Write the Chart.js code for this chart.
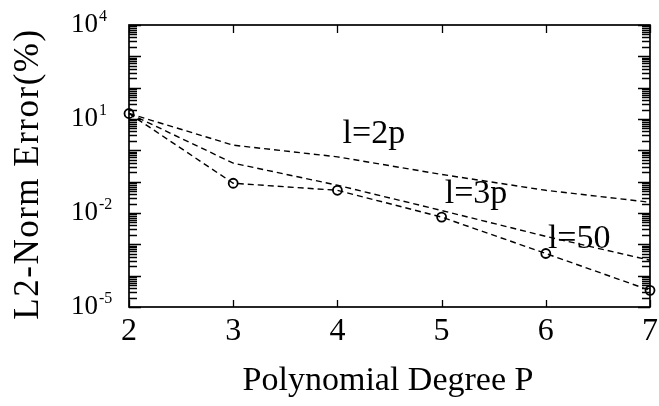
<!DOCTYPE html>
<html>
<head>
<meta charset="utf-8">
<script src="https://cdn.jsdelivr.net/npm/chart.js@4.4.1/dist/chart.umd.min.js"></script>
<style>
  html, body { margin: 0; padding: 0; background: #fff; }
  canvas { display: block; }
</style>
</head>
<body>
<canvas id="chart" width="659" height="406"></canvas>
<script>
// values (log axis, %)
const degrees = [2, 3, 4, 5, 6, 7];
const err2p = [15, 1.46, 0.62, 0.17, 0.053, 0.022];
const err3p = [15, 0.39, 0.077, 0.012, 0.0018, 0.00031];
const err50 = [15, 0.089, 0.053, 0.0074, 0.00051, 0.000034];

const xTicks = [2, 3, 4, 5, 6, 7];
const yLabelExps = [-5, -2, 1, 4];
const seriesNames = ["l=2p", "l=3p", "l=50"];

const SERIF = "'Liberation Serif', 'DejaVu Serif', serif";

function pts(vals) {
    return degrees.map((d, i) => ({ x: d, y: vals[i] }));
}

// frame, inward ticks, labels and titles
const framePlugin = {
    id: "frame",
    afterDraw(chart) {
        const ctx = chart.ctx;
        const { left, right, top, bottom } = chart.chartArea;
        const xs = chart.scales.x;
        const ys = chart.scales.y;
        ctx.save();
        ctx.strokeStyle = "#000";
        ctx.fillStyle = "#000";

        ctx.lineWidth = 1.7;
        ctx.strokeRect(left, top, right - left, bottom - top);

        // y ticks: decades long, minor short, both sides
        ctx.lineWidth = 1.3;
        for (let e = -5; e <= 4; e++) {
            for (let k = 1; k <= 9; k++) {
                const v = k * Math.pow(10, e);
                if (v > 1e4 * 1.0001) break;
                const py = Math.round(ys.getPixelForValue(v)) + 0.5;
                const len = k === 1 ? 12 : 8;
                ctx.beginPath();
                ctx.moveTo(left, py); ctx.lineTo(left + len, py);
                ctx.moveTo(right, py); ctx.lineTo(right - len, py);
                ctx.stroke();
            }
        }

        // x ticks top and bottom
        xTicks.forEach(t => {
            const px = Math.round(xs.getPixelForValue(t)) + 0.5;
            ctx.beginPath();
            ctx.moveTo(px, bottom); ctx.lineTo(px, bottom - 7);
            ctx.moveTo(px, top); ctx.lineTo(px, top + 8);
            ctx.stroke();
        });

        // x tick labels
        ctx.font = "32px " + SERIF;
        ctx.textAlign = "center";
        ctx.textBaseline = "alphabetic";
        xTicks.forEach(t => {
            ctx.fillText(String(t), xs.getPixelForValue(t), 340);
        });

        // y tick labels as 10 with raised exponent
        yLabelExps.forEach(e => {
            const py = ys.getPixelForValue(Math.pow(10, e));
            ctx.textAlign = "left";
            ctx.textBaseline = "middle";
            ctx.font = "27px " + SERIF;
            ctx.fillText("10", 71, py);
            const w = ctx.measureText("10").width;
            ctx.font = "16px " + SERIF;
            ctx.fillText(e < 0 ? "-" + Math.abs(e) : String(e), 71 + w + 1, py - 8);
        });

        // axis titles
        ctx.font = "34px " + SERIF;
        ctx.textAlign = "center";
        ctx.textBaseline = "alphabetic";
        ctx.fillText("Polynomial Degree P", 388, 390);

        ctx.save();
        ctx.translate(38, 174);
        ctx.rotate(-Math.PI / 2);
        ctx.font = "35px " + SERIF;
        ctx.letterSpacing = "1.5px";
        ctx.fillText("L2-Norm Error(%)", 0, 0);
        ctx.restore();

        // series labels, anchored in data coordinates
        const notes = [
            { text: seriesNames[0], x: 4.05, y: 1.69 },
            { text: seriesNames[1], x: 5.03, y: 0.0204 },
            { text: seriesNames[2], x: 6.02, y: 0.00074 },
        ];
        ctx.font = "34px " + SERIF;
        ctx.textAlign = "left";
        notes.forEach(n => {
            ctx.fillText(n.text, xs.getPixelForValue(n.x), ys.getPixelForValue(n.y));
        });

        ctx.restore();
    }
};

const lineStyle = {
    borderColor: "#000",
    borderWidth: 1.4,
    borderDash: [6, 4],
    fill: false,
    tension: 0,
    clip: false,
};

new Chart(document.getElementById("chart"), {
    type: "line",
    data: {
        datasets: [
            { label: seriesNames[0], data: pts(err2p), pointRadius: 0, ...lineStyle },
            { label: seriesNames[1], data: pts(err3p), pointRadius: 0, ...lineStyle },
            {
                label: seriesNames[2], data: pts(err50), ...lineStyle,
                pointRadius: 4.5,
                pointBorderWidth: 1.8,
                pointBorderColor: "#000",
                pointBackgroundColor: "rgba(255,255,255,0)",
            },
        ],
    },
    options: {
        responsive: false,
        animation: false,
        events: [],
        layout: { padding: { left: 129, right: 9, top: 25, bottom: 99 } },
        plugins: {
            legend: { display: false },
            tooltip: { enabled: false },
        },
        scales: {
            x: { type: "linear", min: 2, max: 7, display: false },
            y: { type: "logarithmic", min: 1e-5, max: 1e4, display: false },
        },
    },
    plugins: [framePlugin],
});
</script>
</body>
</html>
